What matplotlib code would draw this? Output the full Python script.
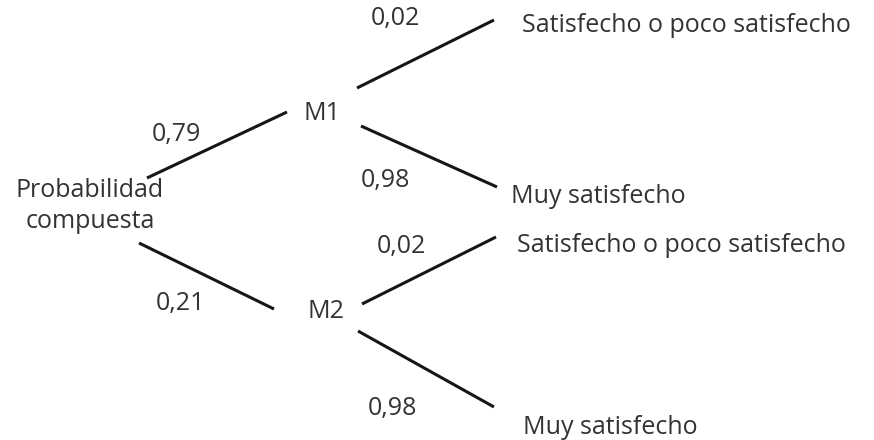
import matplotlib
matplotlib.use("Agg")
import matplotlib.pyplot as plt

# tree content
root_label = "Probabilidad\ncompuesta"
branch_names = ["M1", "M2"]
branch_probs = ["0,79", "0,21"]
leaf_names = ["Satisfecho o poco satisfecho", "Muy satisfecho",
              "Satisfecho o poco satisfecho", "Muy satisfecho"]
leaf_probs = ["0,02", "0,98", "0,02", "0,98"]

# layout in pixel space (x right, y down)
root_edges = [((147, 178), (287, 112)), ((139, 243), (274, 309))]
leaf_edges = [((357, 88), (494, 20)), ((361, 126), (497, 187)),
              ((362, 304), (496, 237)), ((358, 331), (494, 407))]
branch_pos = [(303, 120), (307, 318)]
branch_prob_pos = [(152, 141), (156, 310)]
leaf_pos = [(522, 32), (511, 203), (517, 252), (523, 434)]
leaf_prob_pos = [(371, 25), (361, 187), (377, 253), (368, 415)]

plt.rcParams['font.family'] = ['Open Sans', 'DejaVu Sans']
line_col = '#161616'
text_col = '#333333'
fs = 18

fig = plt.figure(figsize=(8.74, 4.40), dpi=100)
ax = fig.add_axes([0, 0, 1, 1])
ax.set_xlim(0, 874)
ax.set_ylim(440, 0)
ax.axis('off')

for (a, b) in root_edges + leaf_edges:
    ax.plot([a[0], b[0]], [a[1], b[1]], color=line_col, lw=2.2,
            solid_capstyle='butt')

ax.text(90, 197, root_label.split("\n")[0], ha='center', va='baseline',
        fontsize=fs, color=text_col)
ax.text(90, 228, root_label.split("\n")[1], ha='center', va='baseline',
        fontsize=fs, color=text_col)

for name, (x, y) in zip(branch_names, branch_pos):
    ax.text(x, y, name, ha='left', va='baseline', fontsize=fs, color=text_col)
for p, (x, y) in zip(branch_probs, branch_prob_pos):
    ax.text(x, y, p, ha='left', va='baseline', fontsize=fs, color=text_col)
for name, (x, y) in zip(leaf_names, leaf_pos):
    ax.text(x, y, name, ha='left', va='baseline', fontsize=fs, color=text_col)
for p, (x, y) in zip(leaf_probs, leaf_prob_pos):
    ax.text(x, y, p, ha='left', va='baseline', fontsize=fs, color=text_col)

fig.savefig("out.png", dpi=100)
